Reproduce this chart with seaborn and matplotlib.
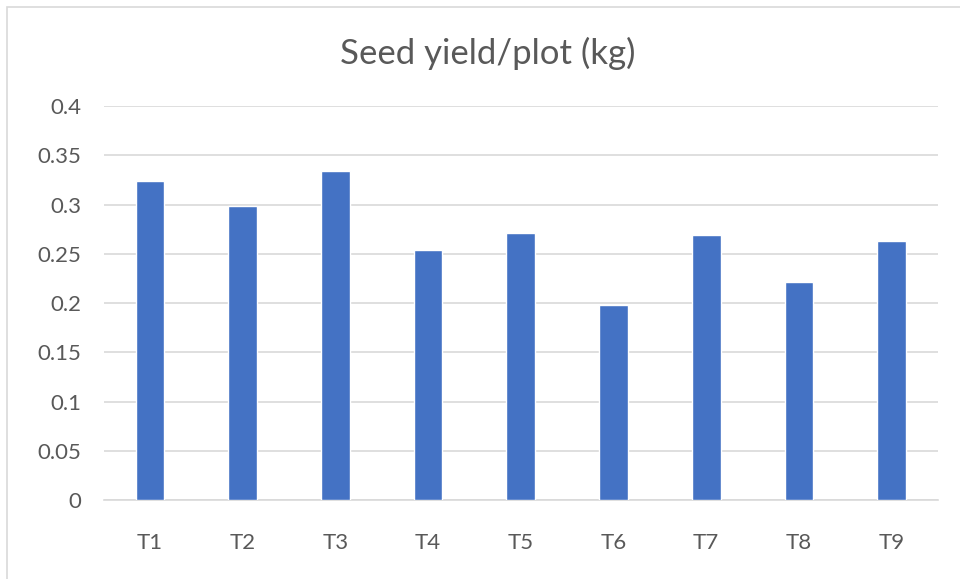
import pandas as pd
import seaborn as sns
import matplotlib.pyplot as plt
from matplotlib.patches import Rectangle

treatments = ["T1", "T2", "T3", "T4", "T5", "T6", "T7", "T8", "T9"]
seed_yield = [0.324, 0.298, 0.334, 0.254, 0.271, 0.198, 0.269, 0.221, 0.263]
y_ticks = [0, 0.05, 0.1, 0.15, 0.2, 0.25, 0.3, 0.35, 0.4]
y_tick_labels = ["0", "0.05", "0.1", "0.15", "0.2", "0.25", "0.3", "0.35", "0.4"]

df = pd.DataFrame({"treatment": treatments, "yield": seed_yield})

sns.set_style("white")
plt.rcParams['font.family'] = ['Lato', 'DejaVu Sans']

fig = plt.figure(figsize=(9.6, 5.79), dpi=100)
ax = fig.add_axes([0.108, 0.1364, 0.869, 0.6805])

sns.barplot(data=df, x="treatment", y="yield", color="#4472C4", saturation=1,
            width=0.31, ax=ax, zorder=3)

ax.set_ylim(0, 0.4)
ax.set_yticks(y_ticks)
ax.set_yticklabels(y_tick_labels)
ax.set_xlim(-0.5, len(treatments) - 0.5)
ax.grid(axis='y', color='#d9d9d9', linewidth=1.2, zorder=0)
ax.set_axisbelow(True)
for s in ["top", "right", "left"]:
    ax.spines[s].set_visible(False)
ax.spines["bottom"].set_color('#d9d9d9')
ax.spines["bottom"].set_linewidth(1.2)
ax.tick_params(axis='both', length=0, labelsize=16, labelcolor='#595959')
ax.tick_params(axis='x', pad=24)
ax.tick_params(axis='y', pad=16)
ax.set_xlabel("")
ax.set_ylabel("")

fig.text(0.508, 0.908, "Seed yield/plot (kg)", ha='center', va='center',
         fontsize=25, color='#595959')

# chart border
fig.patches.append(Rectangle((0.007, -0.01), 1.0, 0.998, transform=fig.transFigure,
                             fill=False, edgecolor='#d9d9d9', linewidth=1.2))

fig.savefig("out.png", dpi=100)
